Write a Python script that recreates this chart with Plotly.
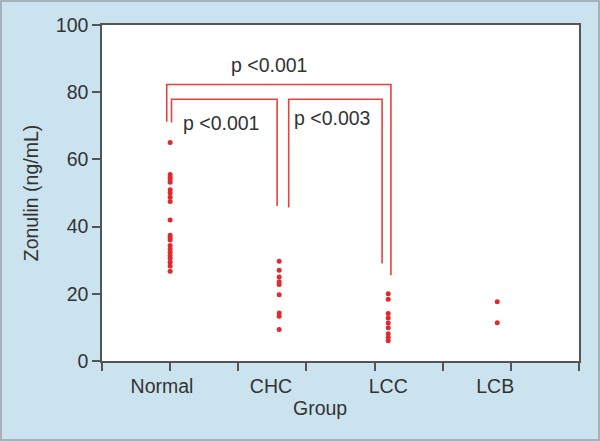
import plotly.graph_objects as go

# ---- data ----
groups = ["Normal", "CHC", "LCC", "LCB"]
normal_vals = [65.0, 55.5, 54.7, 54.0, 53.2, 51.0, 50.0, 48.7, 47.5,
               42.0, 37.4, 36.7, 36.0, 34.4, 33.4, 32.4, 31.4, 30.5, 29.4, 28.3, 26.7]
chc_vals = [29.7, 27.0, 25.0, 23.6, 22.8, 19.7, 14.3, 13.3, 9.4]
lcc_vals = [20.0, 18.4, 14.1, 12.8, 11.3, 9.9, 8.1, 7.0, 6.0]
lcb_vals = [17.6, 11.4]
values = [normal_vals, chc_vals, lcc_vals, lcb_vals]

# comparison brackets: x-left, x-right, top, bottom-left, bottom-right
br_xl = [0.95, 1.02, 2.74]
br_xr = [4.24, 2.57, 4.11]
br_top = [82.3, 77.9, 77.9]
br_bl = [71.2, 71.0, 45.7]
br_br = [25.5, 46.1, 29.0]
p_labels = ["p <0.001", "p <0.001", "p <0.003"]
p_x = [2.45, 1.74, 3.38]
p_y = [88.2, 70.7, 72.2]

y_ticks = [0, 20, 40, 60, 80, 100]

# ---- layout constants ----
cat_pos = [1 + 1.6 * i for i in range(len(groups))]
label_shift = [-0.12, -0.12, 0.0, -0.03]
label_pos = [p + s for p, s in zip(cat_pos, label_shift)]
W, H = 600, 441
ml, mr, mt, mb = 102, 21, 25, 80
pw, ph = W - ml - mr, H - mt - mb
bg = "#cbe3ef"
txt = "#333333"
red = "#e02a2e"
font = "Liberation Sans, Arial, sans-serif"
fs = 19.5

fig = go.Figure()

for g, pos, vals in zip(groups, cat_pos, values):
    fig.add_trace(go.Scatter(
        x=[pos] * len(vals), y=vals, mode="markers",
        marker=dict(color=red, size=5, line=dict(width=0)),
        name=g, showlegend=False, hoverinfo="y"))

for xl, xr, top, bl, brr in zip(br_xl, br_xr, br_top, br_bl, br_br):
    fig.add_trace(go.Scatter(
        x=[xl, xl, xr, xr], y=[bl, top, top, brr], mode="lines",
        line=dict(color="#e8413e", width=1.6), showlegend=False,
        hoverinfo="skip"))

for lab, x, y in zip(p_labels, p_x, p_y):
    fig.add_annotation(x=x, y=y, text=lab, showarrow=False,
                       font=dict(size=fs, color=txt, family=font),
                       xref="x", yref="y")

# x-axis title
fig.add_annotation(x=3.2, y=-0.14, xref="x", yref="paper", text="Group",
                   showarrow=False, yanchor="middle",
                   font=dict(size=fs, color=txt, family=font))

# figure border
fig.add_shape(type="rect", xref="paper", yref="paper",
              x0=(-ml + 1) / pw, x1=1 + (mr - 1) / pw,
              y0=(-mb + 1) / ph, y1=1 + (mt - 1) / ph,
              line=dict(color="#9aa3a8", width=1.5), layer="below")

fig.update_layout(
    width=W, height=H,
    margin=dict(l=ml, r=mr, t=mt, b=mb),
    paper_bgcolor=bg, plot_bgcolor="white",
    font=dict(family=font, size=fs, color=txt),
    xaxis=dict(range=[0, 7], tickvals=list(range(8)), ticktext=[""] * 8,
               ticks="outside", ticklen=8, tickcolor="#555", tickwidth=1.5,
               showline=True, linecolor="#555", linewidth=1.5, mirror=True,
               showgrid=False, zeroline=False, fixedrange=True),
    xaxis2=dict(range=[0, 7], overlaying="x", anchor="y", side="bottom",
                tickvals=label_pos, ticktext=groups, ticks="",
                ticklabelstandoff=11,
                tickfont=dict(size=fs, color=txt, family=font),
                showline=False, showgrid=False, zeroline=False),
    yaxis=dict(range=[0, 100], tickvals=y_ticks, ticks="outside", ticklen=8,
               tickcolor="#555", tickwidth=1.5,
               showline=True, linecolor="#555", linewidth=1.5, mirror=True,
               showgrid=False, zeroline=False,
               tickfont=dict(size=fs, color=txt, family=font),
               title=dict(text="Zonulin (ng/mL)", standoff=12,
                          font=dict(size=fs, color=txt, family=font))),
)
# dummy trace to activate xaxis2
fig.add_trace(go.Scatter(x=[cat_pos[0]], y=[None], xaxis="x2",
                         showlegend=False, hoverinfo="skip"))

fig.write_html("out.html", config={"displayModeBar": False},
               post_script="document.body.style.margin='0';document.body.style.overflow='hidden';")
